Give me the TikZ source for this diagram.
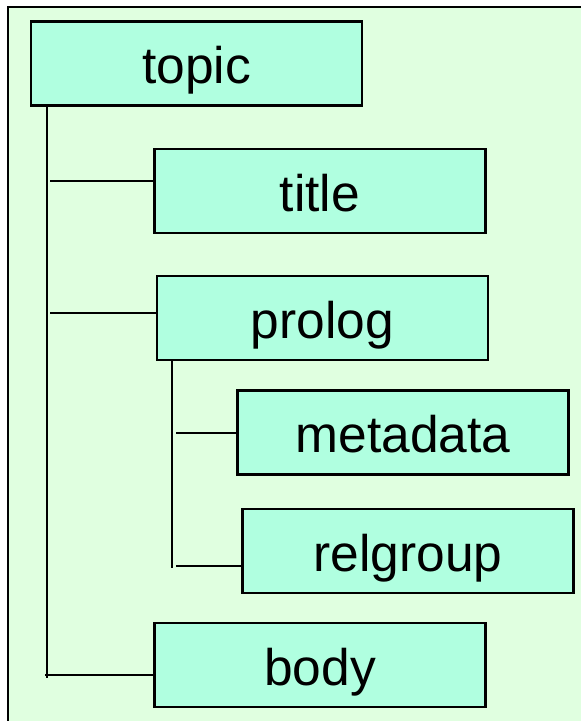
\documentclass[tikz,border=0pt]{standalone}
\usepackage{fontspec}
\setmainfont{Liberation Sans}
\definecolor{bgc}{RGB}{224,255,224}
\definecolor{boxc}{RGB}{176,255,224}
\begin{document}
\begin{tikzpicture}[x=1pt,y=-1pt,
  elem/.style={draw=black, line width=2.2pt, fill=boxc, rectangle, inner sep=0pt,
    minimum width=331pt, minimum height=84pt, text height=40pt, text depth=0pt,
    font=\fontsize{51.5}{60}\selectfont},
  conn/.style={line width=2.2pt, black}]
\useasboundingbox (0,0) rectangle (581,721);
\fill[white] (0,0) rectangle (581,721);
\fill[bgc] (8,7) rectangle (581,721);
\draw[line width=2.2pt] (8,721) -- (8,7) -- (581,7);
\node[elem] (topic) at (196.5,63.5) {topic};
\node[elem] (title) at (320,191) {title};
\node[elem] (prolog) at (322.5,318) {prolog};
\node[elem] (metadata) at (403,432.5) {metadata};
\node[elem] (relgroup) at (408,551) {relgroup};
\node[elem] (body) at (320,665) {body};
\coordinate (v0) at (47,106);
\coordinate (v1) at (47,678);
\draw[conn] (v0) -- (v1);
\coordinate (h1) at (50,181);
\coordinate (h2) at (50,313);
\coordinate (h5) at (45,675);
\draw[conn] (h1) -- (h1 -| title.west);
\draw[conn] (h2) -- (h2 -| prolog.west);
\draw[conn] (h5) -- (h5 -| body.west);
\coordinate (w0) at (172,360);
\coordinate (w1) at (172,568);
\draw[conn] (w0) -- (w1);
\coordinate (h3) at (176,433);
\coordinate (h4) at (176,566);
\draw[conn] (h3) -- (h3 -| metadata.west);
\draw[conn] (h4) -- (h4 -| relgroup.west);
\end{tikzpicture}
\end{document}
